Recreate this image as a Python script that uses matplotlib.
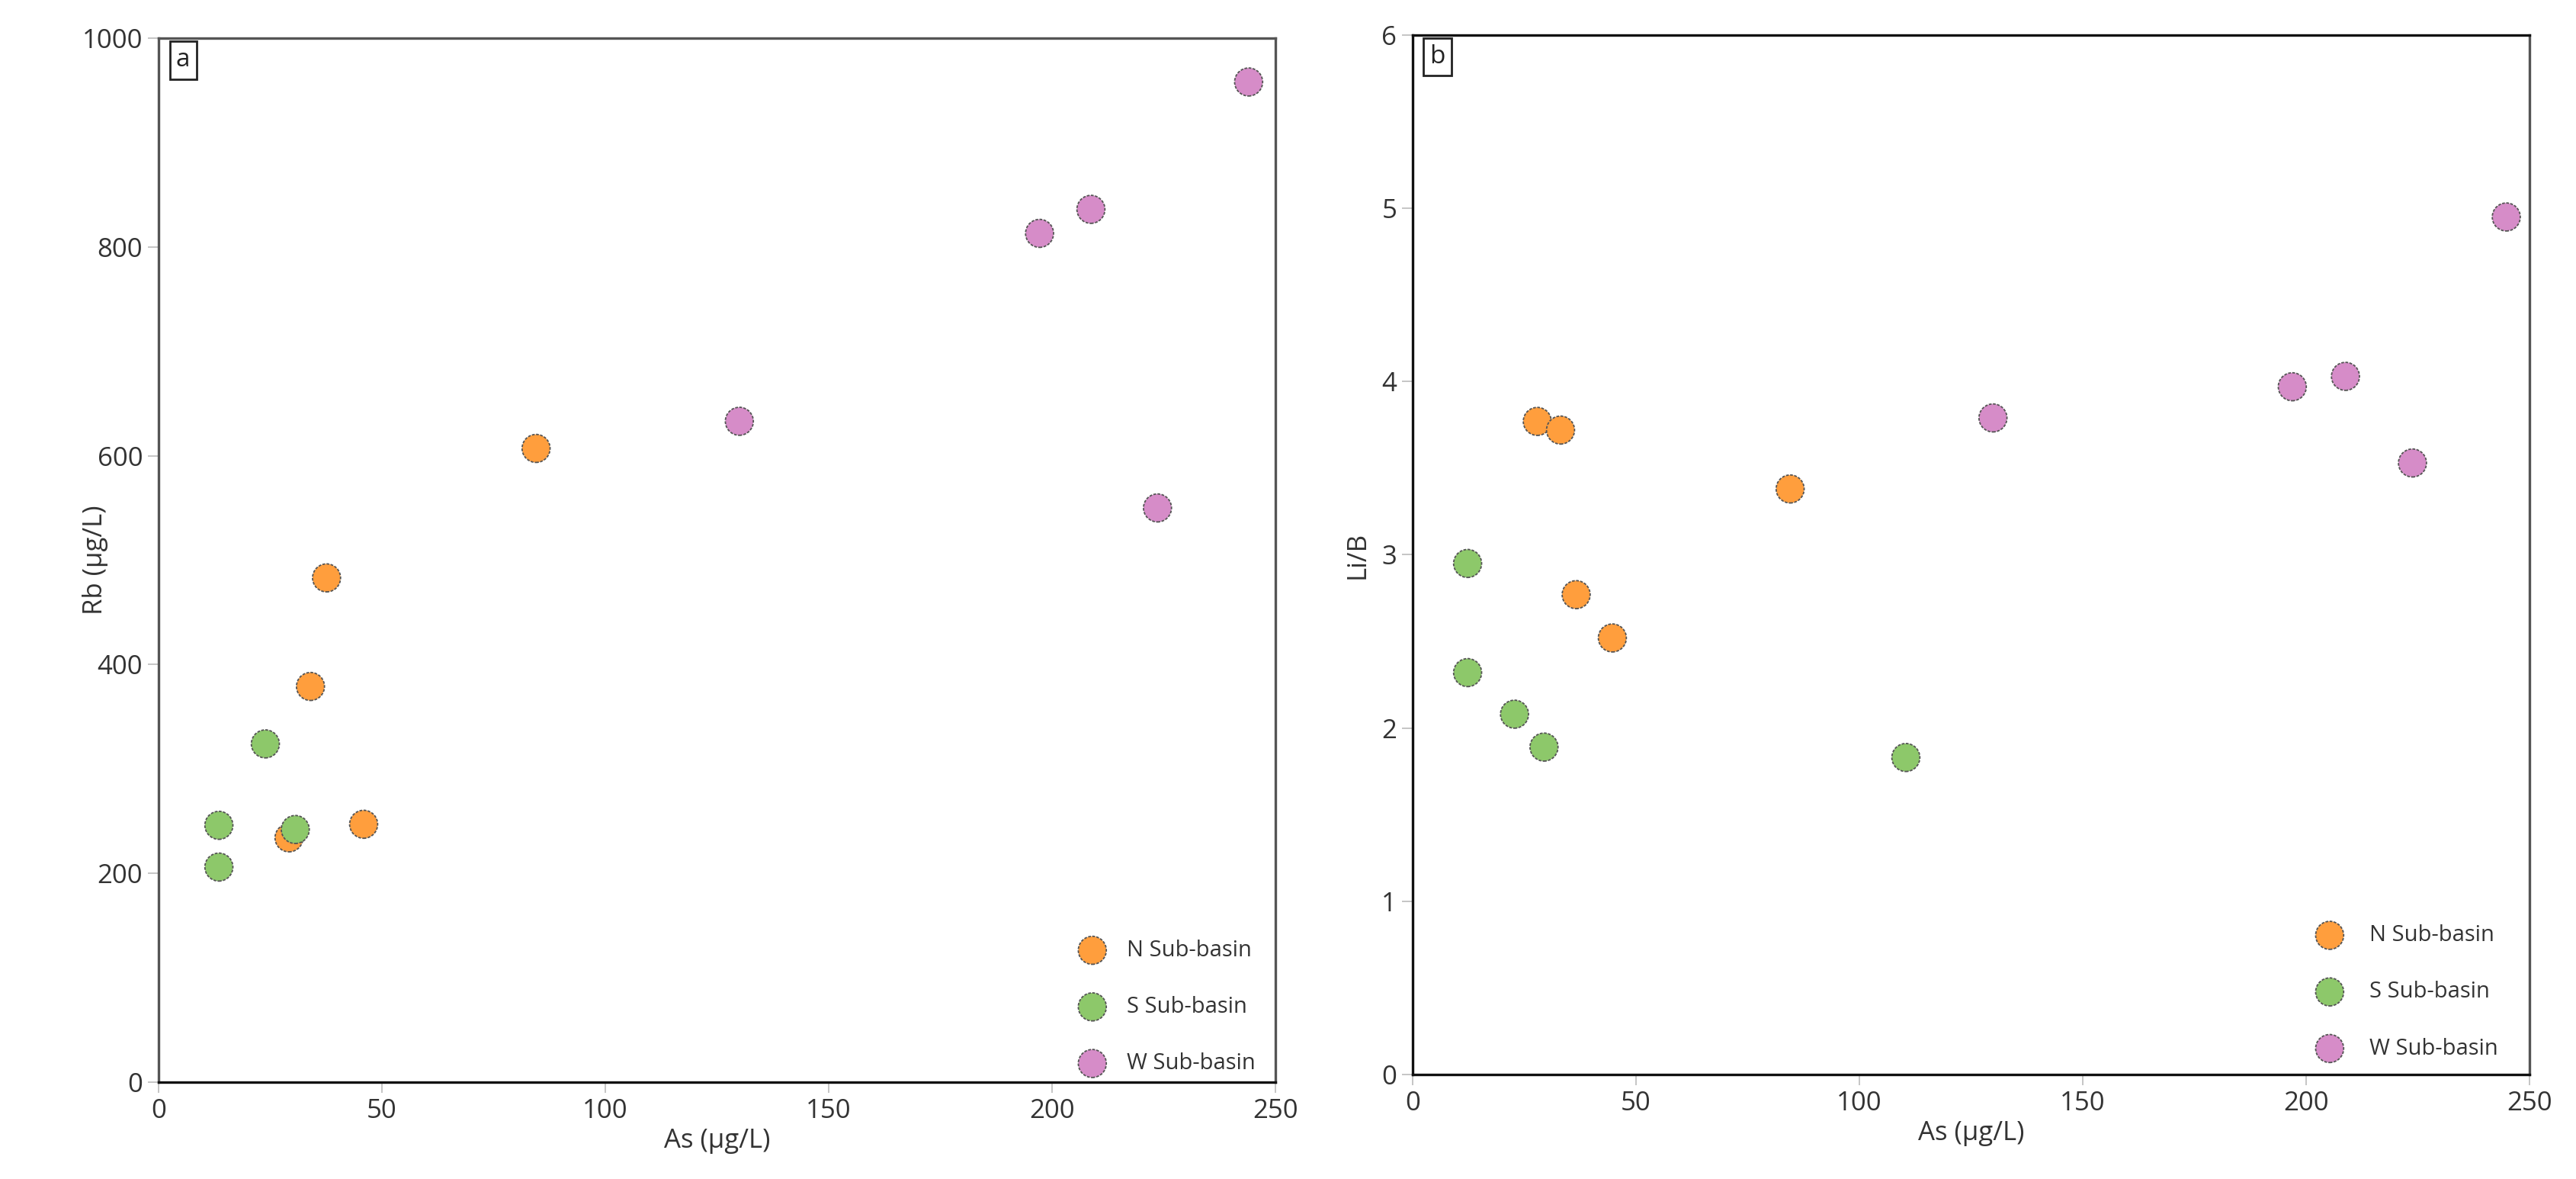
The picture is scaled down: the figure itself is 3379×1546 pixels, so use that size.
import matplotlib
matplotlib.use("Agg")
import matplotlib.pyplot as plt

plt.rcParams['font.family'] = ['Open Sans', 'DejaVu Sans']

groups = ["N Sub-basin", "S Sub-basin", "W Sub-basin"]
colors = ["#FF9E3D", "#8DC86A", "#D68CC8"]

# panel a: As vs Rb
as_a = {
    "N Sub-basin": [37.6, 34.0, 29.2, 45.9, 84.5],
    "S Sub-basin": [13.5, 13.5, 23.9, 30.6],
    "W Sub-basin": [130.0, 197.2, 208.7, 223.6, 244.0],
}
rb_a = {
    "N Sub-basin": [483, 379, 234, 247, 607],
    "S Sub-basin": [246, 206, 324, 242],
    "W Sub-basin": [633, 813, 836, 550, 958],
}

# panel b: As vs Li/B
as_b = {
    "N Sub-basin": [27.9, 33.1, 84.5, 36.6, 44.7],
    "S Sub-basin": [12.3, 12.3, 22.8, 29.4, 110.4],
    "W Sub-basin": [129.9, 196.9, 208.8, 223.8, 244.8],
}
lib_b = {
    "N Sub-basin": [3.77, 3.72, 3.38, 2.77, 2.52],
    "S Sub-basin": [2.95, 2.32, 2.08, 1.89, 1.83],
    "W Sub-basin": [3.79, 3.97, 4.03, 3.53, 4.95],
}

fig = plt.figure(figsize=(33.79, 15.46), dpi=100)
ax1 = fig.add_axes([0.06156, 0.08215, 0.43356, 0.88551])
ax2 = fig.add_axes([0.54839, 0.08862, 0.43356, 0.88163])


def style(ax, ylabel, ylim, yticks, tag, ylab_x, leg_anchor, textpad):
    ax.set_xlim(0, 250)
    ax.set_ylim(*ylim)
    ax.set_xticks([0, 50, 100, 150, 200, 250])
    ax.set_yticks(yticks)
    ax.tick_params(length=10, width=1.2, color="#bbbbbb", labelsize=25,
                   labelcolor="#333333", pad=5)
    ax.set_xlabel("As (\u03bcg/L)", fontsize=25, color="#333333", labelpad=4)
    ax.set_ylabel(ylabel, fontsize=25, color="#333333")
    ax.yaxis.set_label_coords(ylab_x, 0.5)
    for s in ax.spines.values():
        s.set_linewidth(2.4)
        s.set_color("#555555")
    ax.spines["bottom"].set_color("#111111")
    ax.text(0.022, 0.979, tag, transform=ax.transAxes, fontsize=24,
            ha="center", va="center", color="#222222",
            bbox=dict(boxstyle="square,pad=0.25", fc="white", ec="#222222", lw=2))
    ax.legend(loc="lower right", bbox_to_anchor=leg_anchor, frameon=False,
              fontsize=21, labelspacing=1.55, handletextpad=textpad,
              scatterpoints=1, labelcolor="#333333")


for g, c in zip(groups, colors):
    ax1.scatter(as_a[g], rb_a[g], s=700, color=c, edgecolor="#555555",
                linewidth=1.3, linestyle=(0, (2, 1)), label=g, zorder=3)
    ax2.scatter(as_b[g], lib_b[g], s=700, color=c, edgecolor="#555555",
                linewidth=1.3, linestyle=(0, (2, 1)), label=g, zorder=3)

style(ax1, "Rb (\u03bcg/L)", (0, 1000), [0, 200, 400, 600, 800, 1000], "a",
      -0.045, (1.0, -0.012), 0.55)
style(ax2, "Li/B", (0, 6), [0, 1, 2, 3, 4, 5, 6], "b",
      -0.038, (0.99, -0.005), 0.8)
ax2.spines["left"].set_color("#111111")
ax2.spines["top"].set_color("#111111")

fig.savefig("out.png", dpi=100, facecolor="white")
